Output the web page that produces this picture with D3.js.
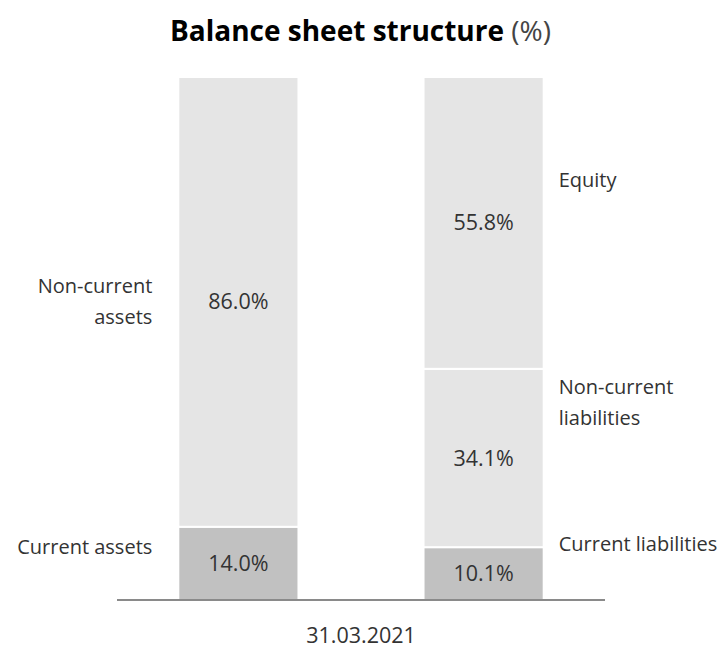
<!DOCTYPE html>
<html lang="en">
	<head>
		<title>Balance sheet structure</title>
		<meta charset="utf-8">
		<script src="https://d3js.org/d3.v7.min.js"></script>
		<style>
			body { margin: 0; background: #fff; }
			text { font-family: "Open Sans", "Noto Sans", sans-serif; }
		</style>
	</head>
	<body>
		<div id="chart"></div>
		<script>
// data
var columns = ["Assets", "Liabilities"];
var dateLabel = "31.03.2021";
var assetNames = ["Current assets", "Non-current assets"];
var assetValues = [14.0, 86.0];
var liabNames = ["Current liabilities", "Non-current liabilities", "Equity"];
var liabValues = [10.1, 34.1, 55.8];
var segColors = ["#c1c1c1", "#e5e5e5", "#e5e5e5"];

var W = 721, H = 649;

var svg = d3.select("#chart")
	.append("svg")
	.attr("width", W)
	.attr("height", H);

// scales
var x = d3.scaleBand()
	.domain(columns)
	.range([117, 605])
	.paddingInner(0.51)
	.paddingOuter(0.25);

var y = d3.scaleLinear()
	.domain([0, 100])
	.range([600, 77]);

// stack a column
function stackUp(names, values, col) {
	var acc = 0;
	return values.map(function(v, i) {
		var d = {col: col, name: names[i], value: v, y0: acc, y1: acc + v, i: i};
		acc += v;
		return d;
	});
}

var segs = stackUp(assetNames, assetValues, "Assets")
	.concat(stackUp(liabNames, liabValues, "Liabilities"));

svg.append("g")
	.selectAll("rect")
	.data(segs)
	.enter()
	.append("rect")
	.attr("x", function(d) { return x(d.col); })
	.attr("width", x.bandwidth())
	.attr("y", function(d) { return y(d.y1); })
	.attr("height", function(d) { return y(d.y0) - y(d.y1); })
	.attr("fill", function(d) { return segColors[d.i]; })
	.attr("stroke", "#fff")
	.attr("stroke-width", 2);

// value labels
svg.append("g")
	.selectAll("text")
	.data(segs)
	.enter()
	.append("text")
	.attr("x", function(d) { return x(d.col) + x.bandwidth() / 2; })
	.attr("y", function(d) { return (y(d.y0) + y(d.y1)) / 2; })
	.attr("dy", "0.35em")
	.attr("text-anchor", "middle")
	.style("font-size", "21.5px")
	.style("fill", "#333")
	.text(function(d) { return d.value.toFixed(1) + "%"; });

// baseline
svg.append("line")
	.attr("x1", 117)
	.attr("x2", 605)
	.attr("y1", y(0))
	.attr("y2", y(0))
	.attr("stroke", "#8a8a8a")
	.attr("stroke-width", 2);

// category labels
var leftX = x("Assets") - 26;
var rightX = x("Liabilities") + x.bandwidth() + 15;
var catLabels = [
	{lines: ["Non-current", "assets"], x: leftX, y: (y(14) + y(100)) / 2 - 16, anchor: "end"},
	{lines: ["Current assets"], x: leftX, y: y(14) + 20, anchor: "end"},
	{lines: ["Equity"], x: rightX, y: y(100) + 103, anchor: "start"},
	{lines: ["Non-current", "liabilities"], x: rightX, y: y(44.2) + 18, anchor: "start"},
	{lines: ["Current liabilities"], x: rightX, y: y(10.1) - 3, anchor: "start"}
];

catLabels.forEach(function(c) {
	var t = svg.append("text")
		.attr("x", c.x)
		.attr("y", c.y)
		.attr("text-anchor", c.anchor)
		.style("font-size", "20px")
		.style("fill", "#333");
	c.lines.forEach(function(l, k) {
		t.append("tspan")
			.attr("x", c.x)
			.attr("dy", k == 0 ? "0.35em" : "31px")
			.text(l);
	});
});

// date label
svg.append("text")
	.attr("x", (117 + 605) / 2)
	.attr("y", 643)
	.attr("text-anchor", "middle")
	.style("font-size", "21.5px")
	.style("fill", "#333")
	.text(dateLabel);

// title
var title = svg.append("text")
	.attr("x", W / 2)
	.attr("y", 41)
	.attr("text-anchor", "middle")
	.style("font-size", "28px")
	.style("fill", "#000");
title.append("tspan").style("font-weight", "bold").text("Balance sheet structure ");
title.append("tspan").style("fill", "#444").text("(%)");
		</script>
	</body>
</html>
